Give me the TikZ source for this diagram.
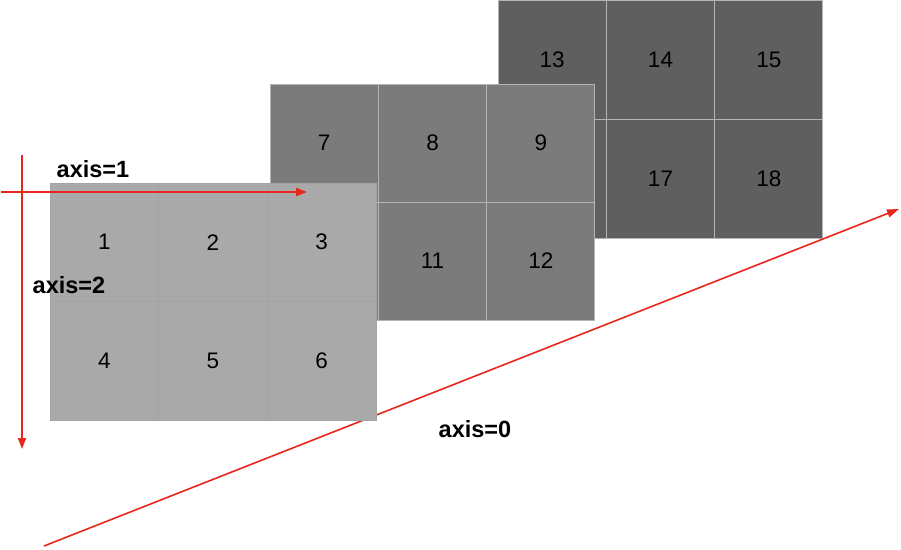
\documentclass[tikz,border=0pt]{standalone}
\usepackage{fontspec}
\setmainfont{Liberation Sans}
\usetikzlibrary{arrows.meta}
\definecolor{frontgray}{HTML}{A9A9A9}
\definecolor{frontline}{HTML}{A3A3A3}
\definecolor{midgray}{HTML}{7B7B7B}
\definecolor{backgray}{HTML}{5F5F5F}
\definecolor{gridgray}{HTML}{B4B4B4}
\definecolor{axisred}{HTML}{E8261C}
\tikzset{
  x=1pt, y=-1pt,
  cellnum/.style={font=\fontsize{22.5}{27}\selectfont, text=black, inner sep=0pt},
  backcell/.style={draw=gridgray, line width=1pt, fill=backgray, inner sep=0pt, minimum width=108.33pt, minimum height=118.5pt},
  midcell/.style={draw=gridgray, line width=1pt, fill=midgray, inner sep=0pt, minimum width=108.33pt, minimum height=118pt},
  frontcell/.style={draw=frontline, line width=0.6pt, fill=frontgray, inner sep=0pt, minimum width=108.67pt, minimum height=118.5pt},
  axisarrow/.style={draw=axisred, line width=1.8pt, -{Triangle[length=11pt,width=8pt]}},
  diagarrow/.style={draw=axisred, line width=1.6pt, -{Triangle[length=12pt,width=8pt]}},
  axislabel/.style={font=\bfseries\fontsize{23.5}{28}\selectfont, inner sep=0pt}
}
\begin{document}
\begin{tikzpicture}
\useasboundingbox (0,0) rectangle (901,549);
% back panel (13-18)
\node[backcell] (c13) at (552.2,60.2) {};
\node[backcell] (c14) at (660.5,60.2) {};
\node[backcell] (c15) at (768.8,60.2) {};
\node[backcell] (c16) at (552.2,178.8) {};
\node[backcell] (c17) at (660.5,178.8) {};
\node[backcell] (c18) at (768.8,178.8) {};
\node[cellnum] (n13) at (c13) {13};
\node[cellnum] (n14) at (c14) {14};
\node[cellnum] (n15) at (c15) {15};
\node[cellnum] (n17) at (c17) {17};
\node[cellnum] (n18) at (c18) {18};
% middle panel (7-12)
\node[midcell] (c7) at (324.2,143) {};
\node[midcell] (c8) at (432.5,143) {};
\node[midcell] (c9) at (540.8,143) {};
\node[midcell] (c10) at (324.2,261) {};
\node[midcell] (c11) at (432.5,261) {};
\node[midcell] (c12) at (540.8,261) {};
\node[cellnum] (n7) at (c7) {7};
\node[cellnum] (n8) at (c8) {8};
\node[cellnum] (n9) at (c9) {9};
\node[cellnum] (n11) at (c11) {11};
\node[cellnum] (n12) at (c12) {12};
% axis=0 arrow (behind the front panel)
\coordinate (d0) at (44,546);
\coordinate (d1) at (899,209);
\draw[diagarrow] (d0) -- (d1);
% front panel (1-6)
\node[frontcell] (c1) at (104.3,242.2) {};
\node[frontcell] (c2) at (213,242.2) {};
\node[frontcell] (c3) at (321.7,242.2) {};
\node[frontcell] (c4) at (104.3,360.8) {};
\node[frontcell] (c5) at (213,360.8) {};
\node[frontcell] (c6) at (321.7,360.8) {};
\node[cellnum] (n1) at (c1) {1};
\node[cellnum] (n2) at (c2) {2};
\node[cellnum] (n3) at (c3) {3};
\node[cellnum] (n4) at (c4) {4};
\node[cellnum] (n5) at (c5) {5};
\node[cellnum] (n6) at (c6) {6};
% axis=1 and axis=2 arrows
\coordinate (h0) at (1,192);
\coordinate (h1) at (307,192);
\draw[axisarrow] (h0) -- (h1);
\coordinate (v0) at (22,155);
\coordinate (v1) at (22,449);
\draw[axisarrow] (v0) -- (v1);
% labels
\node[axislabel] (l1) at (93,169) {axis=1};
\node[axislabel] (l2) at (69,285) {axis=2};
\node[axislabel] (l0) at (475,429) {axis=0};
\end{tikzpicture}
\end{document}
